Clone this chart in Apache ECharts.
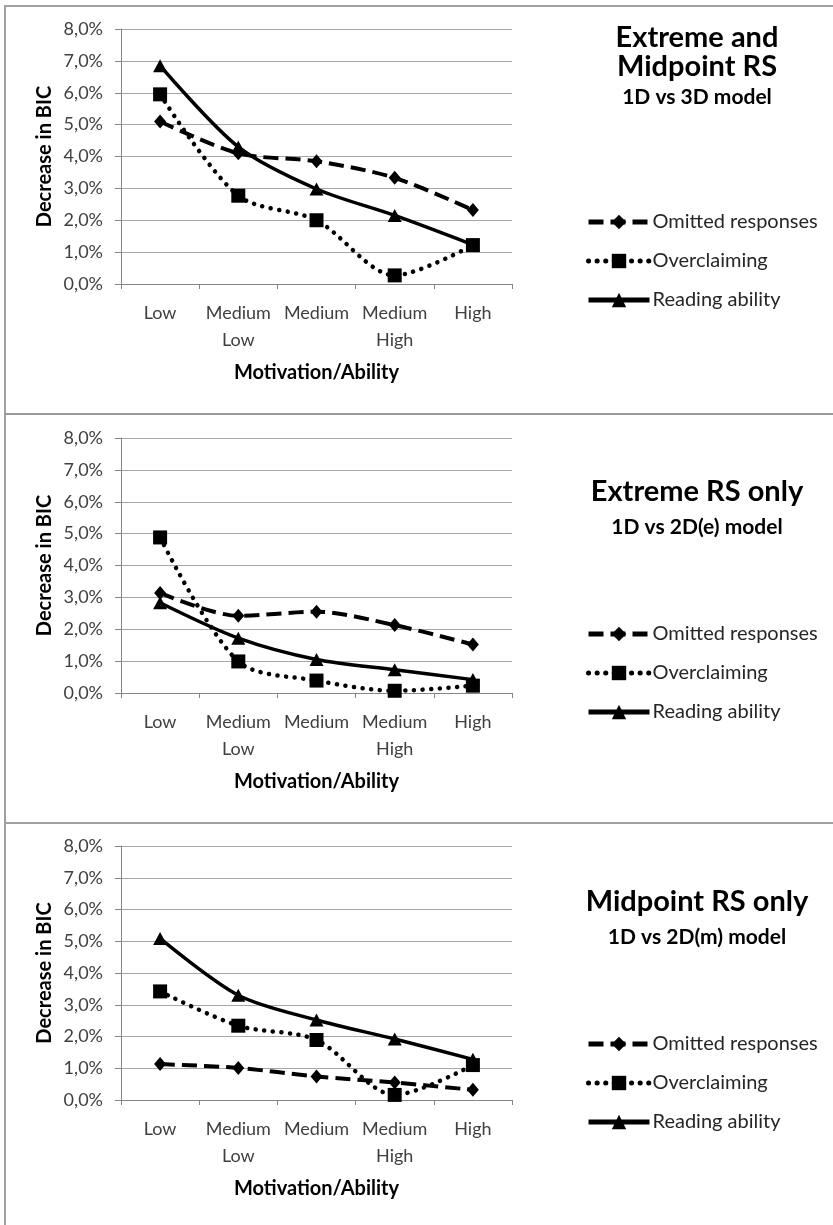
<!DOCTYPE html>
<html>
<head>
<meta charset="utf-8">
<script src="https://cdn.jsdelivr.net/npm/echarts@6/dist/echarts.min.js"></script>
<style>
html,body{margin:0;padding:0;background:#fff;}
#c{width:833px;height:1225px;}
</style>
</head>
<body>
<div id="c"></div>
<script>
// ---- data ----
const categories = ['Low', 'Medium\nLow', 'Medium', 'Medium\nHigh', 'High'];
const seriesNames = ['Omitted responses', 'Overclaiming', 'Reading ability'];

// Panel 1: Extreme and Midpoint RS (1D vs 3D)
const p1Omitted = [5.10, 4.10, 3.85, 3.33, 2.32];
const p1Overclaiming = [5.95, 2.77, 2.00, 0.27, 1.22];
const p1Reading = [6.85, 4.30, 2.98, 2.15, 1.23];

// Panel 2: Extreme RS only (1D vs 2D(e))
const p2Omitted = [3.14, 2.42, 2.55, 2.13, 1.52];
const p2Overclaiming = [4.88, 0.99, 0.39, 0.07, 0.23];
const p2Reading = [2.83, 1.72, 1.05, 0.73, 0.42];

// Panel 3: Midpoint RS only (1D vs 2D(m))
const p3Omitted = [1.13, 1.01, 0.74, 0.55, 0.32];
const p3Overclaiming = [3.42, 2.34, 1.89, 0.16, 1.10];
const p3Reading = [5.09, 3.30, 2.52, 1.92, 1.28];

const panelTitles = [
  ['Extreme and', 'Midpoint RS', '1D vs 3D model'],
  ['Extreme RS only', '1D vs 2D(e) model'],
  ['Midpoint RS only', '1D vs 2D(m) model']
];
const panelData = [
  [p1Omitted, p1Overclaiming, p1Reading],
  [p2Omitted, p2Overclaiming, p2Reading],
  [p3Omitted, p3Overclaiming, p3Reading]
];

// ---- layout ----
const FONT = 'Lato, "Open Sans", sans-serif';
const gridTops = [29, 438, 846];
const gridH = [255, 255, 254];
const legendTops = [207, 619, 1029];
const titleY = [[38, 67, 97], [492, 527], [902, 937]];

const grids = [], xAxes = [], yAxes = [], series = [], legends = [], graphics = [];

const lineStyles = [
  { color: '#000', width: 4, type: [15, 7] },
  { color: '#000', width: 4.5, type: [0.1, 8.5], cap: 'round' },
  { color: '#000', width: 3.5, type: 'solid' }
];
const symbols = [
  { symbol: 'diamond', symbolSize: [12, 14] },
  { symbol: 'rect', symbolSize: 14 },
  { symbol: 'triangle', symbolSize: [14, 13] }
];

for (let p = 0; p < 3; p++) {
  grids.push({ left: 121, width: 391, top: gridTops[p], height: gridH[p] });
  xAxes.push({
    type: 'category', gridIndex: p, data: categories, boundaryGap: true,
    axisLine: { lineStyle: { color: '#868686', width: 1 } },
    axisTick: { show: true, length: 5, lineStyle: { color: '#868686' } },
    axisLabel: { fontSize: 18, color: '#404040', fontFamily: FONT, margin: 16, lineHeight: 27, interval: 0 },
    name: 'Motivation/Ability', nameLocation: 'middle', nameGap: 79,
    nameTextStyle: { fontSize: 20, fontWeight: 'bold', color: '#000', fontFamily: FONT }
  });
  yAxes.push({
    type: 'value', gridIndex: p, min: 0, max: 8, interval: 1,
    axisLine: { show: true, lineStyle: { color: '#868686', width: 1 } },
    axisTick: { show: true, length: 6, lineStyle: { color: '#868686' } },
    splitLine: { show: true, lineStyle: { color: '#a6a6a6', width: 1 } },
    axisLabel: {
      fontSize: 18, color: '#404040', fontFamily: FONT, margin: 18,
      formatter: v => v.toFixed(1).replace('.', ',') + '%'
    },
    name: 'Decrease in BIC', nameLocation: 'middle', nameGap: 66,
    nameTextStyle: { fontSize: 20, fontWeight: 'bold', color: '#000', fontFamily: FONT }
  });
  for (let s = 0; s < 3; s++) {
    series.push({
      type: 'line', name: seriesNames[s], xAxisIndex: p, yAxisIndex: p,
      data: panelData[p][s], smooth: 0.3,
      symbol: symbols[s].symbol, symbolSize: symbols[s].symbolSize, showAllSymbol: true,
      lineStyle: lineStyles[s],
      itemStyle: { color: '#000', borderWidth: 0 },
      emphasis: { disabled: true }, animation: false, z: 2 + s
    });
  }
  legends.push({
    data: seriesNames, orient: 'vertical', left: 581, top: legendTops[p],
    itemWidth: 61, itemHeight: 18, itemGap: 19, selectedMode: false,
    lineStyle: { width: 5 },
    textStyle: { fontSize: 20, color: '#262626', fontFamily: FONT, lineHeight: 20, padding: [0, 0, 0, -2] }
  });
  const t = panelTitles[p];
  t.forEach((txt, i) => {
    const isSub = i === t.length - 1;
    graphics.push({
      type: 'text', x: 697, y: titleY[p][i],
      style: {
        text: txt, fill: '#000', align: 'center', verticalAlign: 'middle',
        font: (isSub ? 'bold 21px ' : 'bold 29px ') + FONT
      }
    });
  });
}

// panel borders
graphics.push({ type: 'rect', shape: { x: 5, y: 6, width: 840, height: 1240 }, style: { fill: 'none', stroke: '#a0a0a0', lineWidth: 2 } });
graphics.push({ type: 'line', shape: { x1: 5, y1: 414, x2: 833, y2: 414 }, style: { stroke: '#999', lineWidth: 2 } });
graphics.push({ type: 'line', shape: { x1: 5, y1: 823, x2: 833, y2: 823 }, style: { stroke: '#a0a0a0', lineWidth: 2 } });

const chart = echarts.init(document.getElementById('c'), null, { renderer: 'canvas' });
chart.setOption({
  backgroundColor: '#fff',
  animation: false,
  grid: grids, xAxis: xAxes, yAxis: yAxes, series: series, legend: legends,
  graphic: graphics
});
</script>
</body>
</html>
